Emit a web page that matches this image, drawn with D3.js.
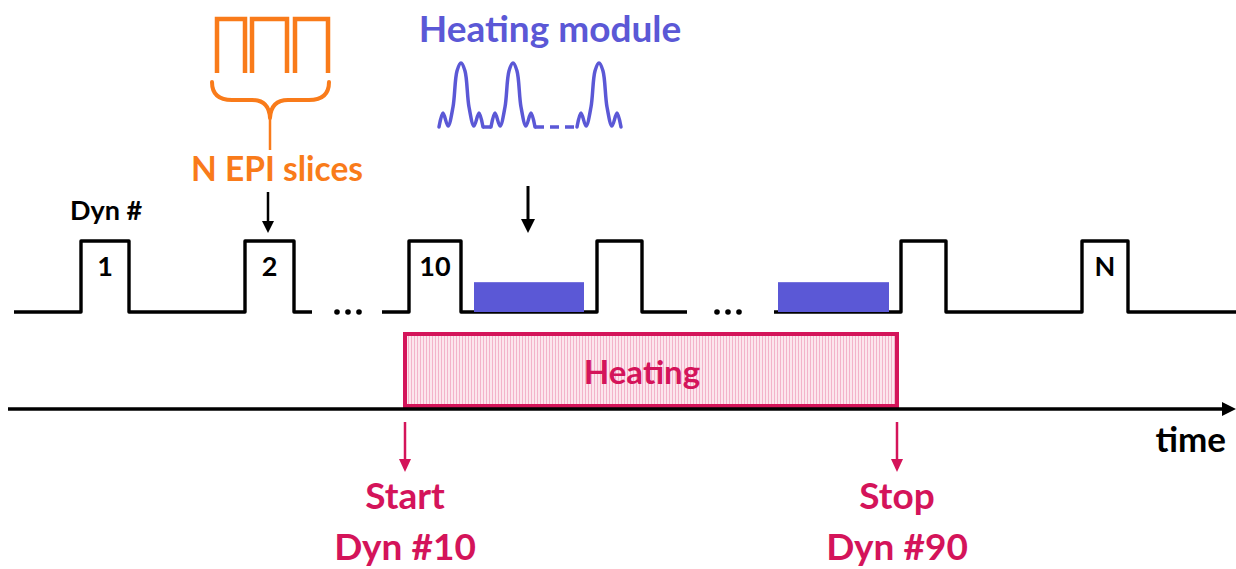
<!DOCTYPE html>
<html><head><meta charset="utf-8">
<script src="https://cdn.jsdelivr.net/npm/d3@7"></script>
<style>
html,body{margin:0;padding:0;background:#fff;}
svg{display:block;font-family:Lato,"Open Sans",sans-serif;font-weight:bold;}
</style></head>
<body>
<svg id="c" width="1236" height="569"></svg>
<script>
// ---- data (time in schematic units, levels 0..1) ----
const pulses = [
  {label:"1",  start:81,  end:129},
  {label:"2",  start:245, end:294},
  {label:"10", start:409, end:461},
  {label:"",   start:597, end:642},
  {label:"",   start:901, end:946},
  {label:"N",  start:1082,end:1128}
];
const baselineSegments = [[14,312],[382,687],[774,1236]];
const ellipsisTimes = [348, 728];
const heatingBlocks = [[474,584],[778,889]];
const heatingBlockLevel = 0.42;
const heatingInterval = {start:405, stop:897, label:"Heating"};
const startLabel = ["Start","Dyn #10"];
const stopLabel = ["Stop","Dyn #90"];
const axisLabel = "time";
const dynLabel = "Dyn #";
const epiLabel = "N EPI slices";
const moduleLabel = "Heating module";
// EPI slice glyph pulses (time units)
const epiGlyph = [[217,245],[252,287],[295,328]];
// heating-module waveform: peak times and one lobe template [dt, amplitude]
const modulePeaks = [461, 513, 599];
const lobeTemplate = [[-22,0],[-18,14],[-13,1],[-8,20],[-4,56],[0,64],[4,56],[8,20],[13,1],[18,14],[22,0]];
const moduleDash = [535, 577];

// ---- scales ----
const svg = d3.select("#c");
const x = d3.scaleLinear().domain([0, 1236]).range([0, 1236]);
const y = d3.scaleLinear().domain([0, 1]).range([312, 241]);

const black = "#000", purple = "#5b58d6", orange = "#f97b1a", crimson = "#d4145a";

// pattern for heating box
const defs = svg.append("defs");
const pat = defs.append("pattern").attr("id","stripes").attr("patternUnits","userSpaceOnUse")
  .attr("width",3).attr("height",4);
pat.append("rect").attr("width",3).attr("height",4).attr("fill","#fce6ed");
pat.append("rect").attr("width",1).attr("height",4).attr("fill","#f3b3ca");

// ---- pulse train ----
const line = d3.line();
baselineSegments.forEach(([a,b]) => {
  const pts = [[x(a), y(0)]];
  pulses.filter(p => p.start > a && p.end < b).forEach(p => {
    pts.push([x(p.start), y(0)],[x(p.start), y(1)],[x(p.end), y(1)],[x(p.end), y(0)]);
  });
  pts.push([x(b), y(0)]);
  svg.append("path").attr("d", line(pts)).attr("fill","none")
    .attr("stroke",black).attr("stroke-width",3.4).attr("stroke-linejoin","round");
});
pulses.forEach(p => {
  if (!p.label) return;
  svg.append("text").attr("x", x((p.start+p.end)/2)).attr("y", y(0.5)-1)
    .attr("text-anchor","middle").attr("font-size",27).attr("fill",black).text(p.label);
});
ellipsisTimes.forEach(t => {
  [-11,0,11].forEach(d => svg.append("circle").attr("cx",x(t)+d).attr("cy",y(0)).attr("r",2.8).attr("fill",black));
});
// heating module blocks
heatingBlocks.forEach(([a,b]) => {
  svg.append("rect").attr("x",x(a)).attr("y",y(heatingBlockLevel)).attr("width",x(b)-x(a))
    .attr("height",y(0)-y(heatingBlockLevel)).attr("fill",purple);
});
svg.append("text").attr("x",70).attr("y",220).attr("font-size",27).attr("fill",black).text(dynLabel);

// arrows
function arrow(xc, y0, y1, color, w, hw, hl){
  svg.append("line").attr("x1",xc).attr("x2",xc).attr("y1",y0).attr("y2",y1-hl+1)
    .attr("stroke",color).attr("stroke-width",w);
  svg.append("path").attr("d", d3.line()([[xc-hw,y1-hl],[xc+hw,y1-hl],[xc,y1]])+"Z").attr("fill",color);
}
arrow(x(pulses[1].start+23), 192, 233, black, 2.5, 6, 12);
arrow(x(528), 186, 233, black, 3, 7, 14);

// ---- EPI glyph ----
const g1 = svg.append("g").attr("stroke",orange).attr("fill","none").attr("stroke-width",4.5);
epiGlyph.forEach(([a,b]) => {
  g1.append("path").attr("d", line([[x(a),73],[x(a),19],[x(b),19],[x(b),73]]));
});
g1.append("path").attr("stroke-width",4).attr("stroke-linecap","round")
  .attr("d","M212,82 Q212,100 232,100 L252,100 Q269,100 270,118 M329,82 Q329,100 309,100 L288,100 Q271,100 270,118");
g1.append("path").attr("stroke-width",2.5).attr("d","M270,112 L270,150");
svg.append("text").attr("x",277).attr("y",181).attr("text-anchor","middle").attr("font-size",33.5)
  .attr("fill",orange).text(epiLabel);

// ---- heating module glyph ----
svg.append("text").attr("x",550).attr("y",42).attr("text-anchor","middle").attr("font-size",37)
  .attr("fill",purple).text(moduleLabel);
const wy = d3.scaleLinear().domain([0,64]).range([127,63]);
const wl = d3.line().curve(d3.curveCatmullRom.alpha(0.5));
modulePeaks.forEach(pk => {
  svg.append("path").attr("d", wl(lobeTemplate.map(([dt,a]) => [x(pk+dt), wy(a)])))
    .attr("fill","none").attr("stroke",purple).attr("stroke-width",3.5).attr("stroke-linecap","round");
});
svg.append("line").attr("x1",x(modulePeaks[0]+22)).attr("x2",x(modulePeaks[1]-22)).attr("y1",wy(0)).attr("y2",wy(0))
  .attr("stroke",purple).attr("stroke-width",3.5);
svg.append("line").attr("x1",x(moduleDash[0])).attr("x2",x(moduleDash[1])).attr("y1",wy(0)).attr("y2",wy(0))
  .attr("stroke",purple).attr("stroke-width",3.5).attr("stroke-dasharray","9,6");

// ---- heating interval ----
svg.append("rect").attr("x",x(heatingInterval.start)).attr("y",334)
  .attr("width",x(heatingInterval.stop)-x(heatingInterval.start)).attr("height",72)
  .attr("fill","url(#stripes)").attr("stroke",crimson).attr("stroke-width",4);
svg.append("text").attr("x",x((heatingInterval.start+heatingInterval.stop)/2)-9).attr("y",384)
  .attr("text-anchor","middle").attr("font-size",33).attr("fill",crimson).text(heatingInterval.label);

// ---- time axis ----
svg.append("line").attr("x1",8).attr("x2",1224).attr("y1",409).attr("y2",409).attr("stroke",black).attr("stroke-width",3.5);
svg.append("path").attr("d", d3.line()([[1222,402],[1236,409],[1222,416]])+"Z").attr("fill",black);
svg.append("text").attr("x",1226).attr("y",452).attr("text-anchor","end").attr("font-size",35).attr("fill",black).text(axisLabel);

// start / stop
[[heatingInterval.start,startLabel],[heatingInterval.stop,stopLabel]].forEach(([t,lab]) => {
  arrow(x(t), 422, 472, crimson, 2.5, 6, 13);
  lab.forEach((s,i) => svg.append("text").attr("x",x(t)).attr("y",509+i*51).attr("text-anchor","middle")
    .attr("font-size",37).attr("fill",crimson).text(s));
});
</script>
</body></html>
